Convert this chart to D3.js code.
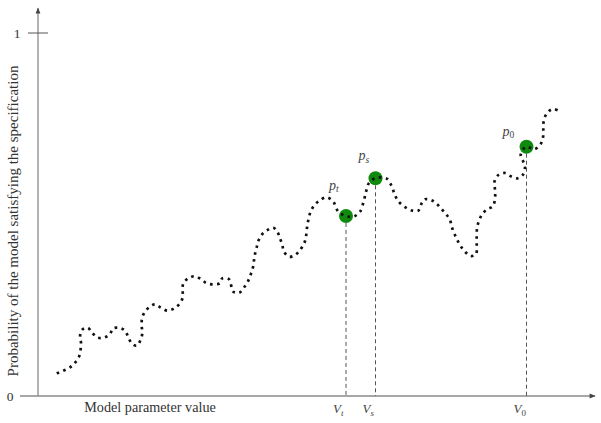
<!DOCTYPE html>
<html>
<head>
<meta charset="utf-8">
<script src="https://cdn.jsdelivr.net/npm/d3@7"></script>
<style>
  html, body { margin: 0; padding: 0; background: #fff; }
  svg { display: block; }
</style>
</head>
<body>
<svg id="chart" width="601" height="423"></svg>
<script>
// ---- data ----
const paramValues = [3.74,5.06,6.4,7.4,8.2,8.6,8.4,8.8,9.94,10.86,11.86,13.26,14.4,15.0,16.2,17.4,18.06,18.74,19.74,20.5,20.86,20.74,20.78,21.26,22.2,23.4,24.6,25.94,27.26,28.26,28.94,28.94,29.06,30.06,31.3,32.6,33.74,35.06,36.4,36.86,38.2,39.06,40.3,41.3,42.06,42.6,43.0,43.2,43.4,43.74,44.06,44.86,45.86,47.06,47.86,48.4,48.86,49.2,50.2,51.4,52.4,53.26,53.6,53.74,53.94,54.4,55.06,56.26,57.74,59.06,60.06,61.54,63.06,64.4,65.2,65.7,66.2,67.4,69.74,70.74,71.3,72.1,73.66,74.9,76.06,76.74,77.4,78.6,79.66,80.74,81.6,82.4,82.74,83.2,83.86,84.54,85.4,86.54,87.6,87.74,87.74,87.74,87.86,88.26,88.86,89.86,90.94,91.4,91.4,91.3,92.06,93.4,94.66,95.9,96.94,97.4,97.06,96.54,97.6,99.2,100.4,100.94,101.06,101.06,101.26,102.06,103.06,104.46];
const probValues = [0.0625,0.0697,0.079,0.0917,0.108,0.146,0.1625,0.182,0.188,0.174,0.161,0.161,0.171,0.186,0.188,0.180,0.162,0.145,0.1386,0.154,0.173,0.193,0.211,0.2295,0.244,0.2526,0.243,0.235,0.2416,0.2534,0.2708,0.289,0.3105,0.324,0.33,0.322,0.3105,0.3077,0.3105,0.324,0.3215,0.287,0.285,0.301,0.318,0.337,0.355,0.374,0.391,0.4096,0.427,0.446,0.457,0.4636,0.4526,0.434,0.416,0.3975,0.3837,0.388,0.402,0.4215,0.439,0.457,0.4758,0.503,0.5215,0.538,0.5474,0.5353,0.5077,0.4959,0.494,0.5077,0.54,0.5675,0.5868,0.5997,0.599,0.5777,0.5565,0.5358,0.518,0.5105,0.5105,0.5309,0.5419,0.54,0.5303,0.5143,0.5014,0.4848,0.4664,0.4499,0.4298,0.4132,0.3975,0.3857,0.391,0.4132,0.4298,0.4482,0.4664,0.4848,0.5014,0.5143,0.5226,0.5427,0.5675,0.5909,0.6088,0.6143,0.6047,0.5997,0.6088,0.6289,0.6455,0.6639,0.6868,0.6796,0.6915,0.7072,0.7281,0.7466,0.765,0.7832,0.7906,0.7832];

const markerNames = ["t", "s", "0"];
const markerParams = [61.6, 67.5, 97.7];
const markerProbs = [0.496, 0.5997, 0.6868];

const yTickValues = [0, 1];
const yTickLabels = ["0", "1"];
const xAxisTitle = "Model parameter value";
const yAxisTitle = "Probability of the model satisfying the specification";

// ---- scales ----
const svg = d3.select("#chart");
const x = d3.scaleLinear().domain([0, 100]).range([38, 538]);
const y = d3.scaleLinear().domain([0, 1]).range([396, 33]);

const FONT = "Liberation Serif";
const axisColor = "#8a8a8a";
const textColor = "#333";

const defs = svg.append("defs");
defs.append("marker")
  .attr("id", "arrow")
  .attr("viewBox", "0 0 10 10")
  .attr("refX", 9).attr("refY", 5)
  .attr("markerWidth", 8).attr("markerHeight", 6)
  .attr("markerUnits", "userSpaceOnUse")
  .attr("orient", "auto")
  .append("path").attr("d", "M0,1 L10,5 L0,9 Z").attr("fill", "#444");

svg.append("line")
  .attr("x1", x(-3.6)).attr("x2", x(111.4))
  .attr("y1", y(0)).attr("y2", y(0))
  .attr("stroke", axisColor).attr("stroke-width", 1.3)
  .attr("marker-end", "url(#arrow)");

svg.append("line")
  .attr("x1", x(0)).attr("x2", x(0))
  .attr("y1", y(0)).attr("y2", y(1.0685))
  .attr("stroke", axisColor).attr("stroke-width", 1.3)
  .attr("marker-end", "url(#arrow)");

yTickValues.forEach((v, i) => {
  if (v === 1) {
    svg.append("line")
      .attr("x1", x(0) - 10).attr("x2", x(0) + 10)
      .attr("y1", y(v)).attr("y2", y(v))
      .attr("stroke", "#555").attr("stroke-width", 1);
  }
  svg.append("text")
    .attr("x", v === 1 ? x(0) - 21 : x(0) - 28)
    .attr("y", y(v) + 4.5)
    .attr("text-anchor", "middle")
    .attr("font-family", FONT)
    .attr("font-size", 13.5)
    .attr("fill", textColor)
    .text(yTickLabels[i]);
});

svg.append("text")
  .attr("x", 150).attr("y", 412)
  .attr("text-anchor", "middle")
  .attr("font-family", FONT)
  .attr("font-size", 14.2)
  .attr("fill", textColor)
  .text(xAxisTitle);

svg.append("text")
  .attr("transform", "translate(18," + 221 + ") rotate(-90)")
  .attr("text-anchor", "middle")
  .attr("font-family", FONT)
  .attr("font-size", 15)
  .attr("fill", textColor)
  .text(yAxisTitle);

const markers = markerNames.map((n, i) => ({ n, px: markerParams[i], pv: markerProbs[i] }));
svg.selectAll("line.drop").data(markers).join("line")
  .attr("class", "drop")
  .attr("x1", d => x(d.px)).attr("x2", d => x(d.px))
  .attr("y1", d => y(d.pv)).attr("y2", y(0))
  .attr("stroke", "#555").attr("stroke-width", 1)
  .attr("stroke-dasharray", "4,3");

svg.selectAll("circle.pt").data(markers).join("circle")
  .attr("class", "pt")
  .attr("cx", d => x(d.px)).attr("cy", d => y(d.pv))
  .attr("r", 7)
  .attr("fill", "#0f8a0f");

const pts = paramValues.map((v, i) => [x(v), y(probValues[i])]);
svg.append("path")
  .attr("d", d3.line().curve(d3.curveCatmullRom.alpha(0.5))(pts))
  .attr("fill", "none")
  .attr("stroke", "#111")
  .attr("stroke-width", 2.7)
  .attr("stroke-dasharray", "2.6,4.4");

const pLabelDx = [-17, -17, -24];
const pLabelDy = [-26, -18, -11];
markers.forEach((d, i) => {
  const t = svg.append("text")
    .attr("x", x(d.px) + pLabelDx[i]).attr("y", y(d.pv) + pLabelDy[i])
    .attr("font-family", FONT)
    .attr("font-size", 14).attr("font-style", "italic").attr("fill", "#444");
  t.append("tspan").text("p");
  t.append("tspan").attr("font-size", 9.5).attr("dy", 2.5).attr("font-style", d.n === "0" ? "normal" : "italic").text(d.n);
});

markers.forEach((d, i) => {
  const t = svg.append("text")
    .attr("x", x(d.px) - 13).attr("y", 413)
    .attr("font-family", FONT)
    .attr("font-size", 13).attr("font-style", "italic").attr("fill", "#444");
  t.append("tspan").text("V");
  t.append("tspan").attr("font-size", 9).attr("dy", 2.5).attr("font-style", d.n === "0" ? "normal" : "italic").text(d.n);
});
</script>
</body>
</html>
